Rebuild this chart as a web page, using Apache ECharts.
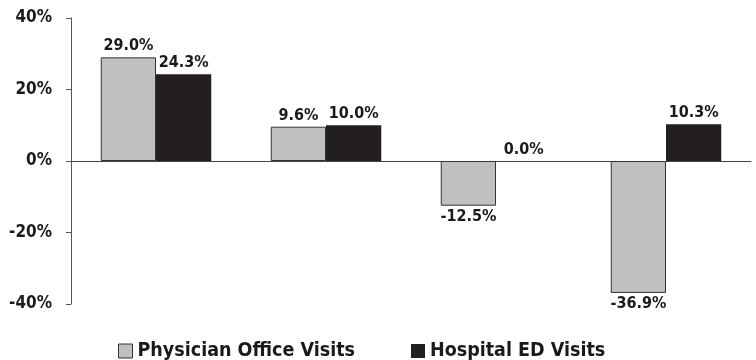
<!DOCTYPE html>
<html><head><meta charset="utf-8">
<script src="https://cdn.jsdelivr.net/npm/echarts@6/dist/echarts.min.js"></script>
<style>html,body{margin:0;padding:0;background:#fff}#c{width:756px;height:360px}</style>
</head><body><div id="c"></div>
<script>
const categories = ['A', 'B', 'C', 'D'];
const physicianOffice = [29.0, 9.6, -12.5, -36.9];
const hospitalED = [24.3, 10.0, 0.0, 10.3];
const yTicks = [-40, -20, 0, 20, 40];
const seriesNames = ['Physician Office Visits', 'Hospital ED Visits'];

const FONT = '"Liberation Sans Narrow", "DejaVu Sans Condensed", Arial, sans-serif';
const chart = echarts.init(document.getElementById('c'), null, {renderer: 'canvas'});
const lbl = {
  show: true, fontFamily: FONT, fontWeight: 'bold', fontSize: 16, color: '#1a1a1a',
  formatter: p => p.value.toFixed(1) + '%', distance: 3
};
const withPos = arr => arr.map(v => ({value: v, label: {position: v < 0 ? 'bottom' : 'top'}}));
chart.setOption({
  animation: false,
  textStyle: {fontFamily: FONT},
  grid: {left: 71, right: 5, top: 18, bottom: 56, containLabel: false},
  legend: {
    top: 336, left: 113, itemWidth: 14, itemHeight: 14, itemGap: 56,
    textStyle: {fontFamily: FONT, fontWeight: 'bold', fontSize: 19.5, color: '#1a1a1a'},
    data: [
      {name: seriesNames[0], icon: 'rect', itemStyle: {color: '#c0c0c0', borderColor: '#333', borderWidth: 1}},
      {name: seriesNames[1], icon: 'rect', itemStyle: {color: '#231f20'}}
    ]
  },
  xAxis: {
    type: 'category', data: categories,
    axisLine: {onZero: true, lineStyle: {color: '#444', width: 1}},
    axisTick: {show: false}, axisLabel: {show: false}, splitLine: {show: false}
  },
  yAxis: {
    type: 'value', min: yTicks[0], max: yTicks[yTicks.length - 1], interval: 20,
    axisLine: {show: true, lineStyle: {color: '#555', width: 1}},
    axisTick: {show: true, length: 5, lineStyle: {color: '#555'}},
    splitLine: {show: false},
    axisLabel: {formatter: v => v + '%', fontFamily: FONT, fontWeight: 'bold', fontSize: 17, color: '#1a1a1a', margin: 19}
  },
  series: [
    {
      name: seriesNames[0], type: 'bar', data: withPos(physicianOffice),
      barGap: '0%', barCategoryGap: '35%',
      itemStyle: {color: '#c0c0c0', borderColor: '#333', borderWidth: 1},
      label: lbl
    },
    {
      name: seriesNames[1], type: 'bar', data: withPos(hospitalED),
      barGap: '0%', barCategoryGap: '35%',
      itemStyle: {color: '#231f20', borderWidth: 0},
      label: lbl
    }
  ]
});
</script></body></html>
